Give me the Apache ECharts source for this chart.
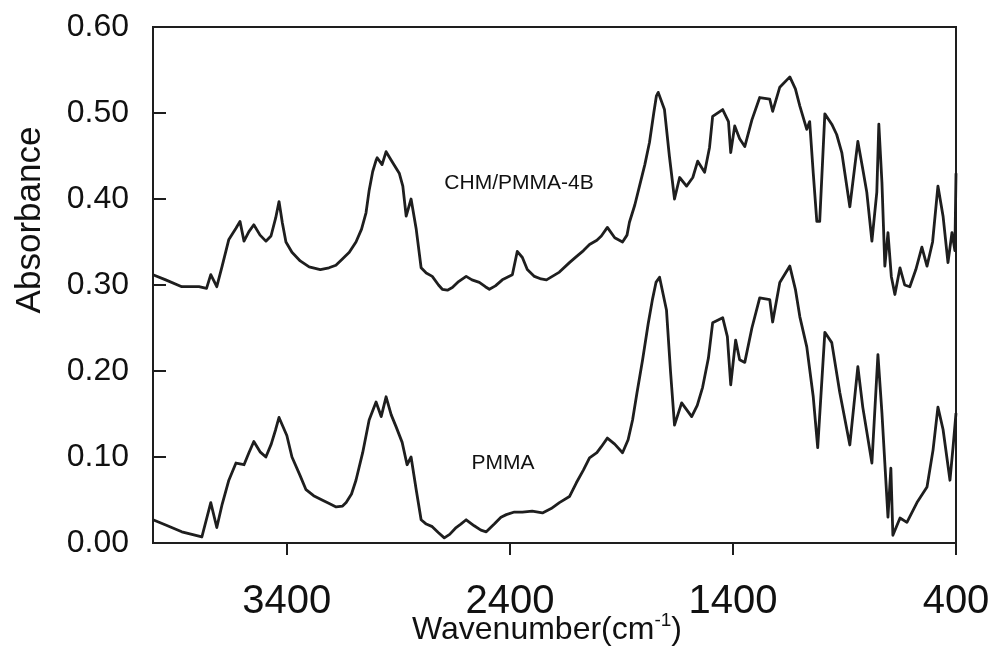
<!DOCTYPE html>
<html>
<head>
<meta charset="utf-8">
<script src="https://cdn.jsdelivr.net/npm/echarts@6/dist/echarts.min.js"></script>
<style>html,body{margin:0;padding:0;background:#fff}#c{width:995px;height:660px}</style>
</head>
<body>
<div id="c"></div>
<script>
// Wavenumber (cm-1) and absorbance readings
const wnTop = [4000,3943,3871,3794,3760,3741,3714,3690,3660,3628,3610,3592,3570,3548,3520,3494,3471,3450,3435,3420,3404,3377,3340,3300,3250,3211,3180,3152,3120,3090,3065,3045,3031,3015,3000,2995,2973,2955,2932,2896,2880,2865,2843,2820,2798,2775,2748,2720,2703,2680,2658,2630,2596,2570,2537,2510,2492,2465,2434,2389,2367,2344,2322,2290,2260,2236,2178,2133,2102,2070,2043,2010,1990,1963,1930,1895,1875,1864,1840,1819,1795,1774,1755,1743,1735,1729,1707,1685,1662,1639,1608,1580,1558,1527,1505,1491,1446,1420,1410,1392,1370,1347,1315,1280,1235,1222,1190,1145,1120,1100,1069,1056,1040,1024,1011,988,957,935,912,876,840,818,800,777,755,746,732,719,705,690,674,651,630,607,580,553,530,505,481,458,436,418,405,400];
const absTop = [0.312,0.306,0.298,0.298,0.296,0.312,0.298,0.322,0.353,0.366,0.374,0.351,0.362,0.370,0.358,0.351,0.357,0.378,0.397,0.372,0.350,0.338,0.328,0.321,0.318,0.320,0.323,0.330,0.338,0.350,0.365,0.384,0.410,0.432,0.445,0.448,0.440,0.455,0.445,0.430,0.415,0.380,0.400,0.365,0.320,0.314,0.310,0.300,0.295,0.294,0.297,0.304,0.310,0.306,0.303,0.298,0.295,0.299,0.306,0.312,0.339,0.332,0.318,0.310,0.307,0.306,0.315,0.326,0.333,0.340,0.347,0.352,0.357,0.367,0.355,0.350,0.358,0.373,0.393,0.415,0.440,0.466,0.500,0.520,0.524,0.522,0.504,0.450,0.400,0.425,0.415,0.425,0.444,0.431,0.460,0.496,0.504,0.490,0.454,0.485,0.470,0.461,0.492,0.518,0.516,0.502,0.530,0.542,0.528,0.508,0.481,0.490,0.430,0.374,0.374,0.499,0.487,0.475,0.454,0.391,0.467,0.435,0.408,0.351,0.408,0.487,0.419,0.322,0.361,0.310,0.289,0.320,0.300,0.298,0.318,0.344,0.322,0.350,0.415,0.380,0.326,0.361,0.340,0.430];
const wnBot = [4000,3943,3871,3781,3741,3714,3690,3660,3628,3592,3570,3548,3520,3494,3470,3450,3435,3400,3377,3340,3314,3280,3242,3210,3179,3150,3134,3110,3090,3060,3031,3000,2977,2955,2932,2910,2883,2861,2843,2820,2798,2775,2748,2720,2694,2670,2641,2620,2596,2560,2530,2506,2470,2440,2416,2380,2344,2300,2254,2215,2178,2133,2102,2070,2043,2010,1990,1963,1930,1895,1870,1850,1830,1805,1780,1761,1745,1729,1698,1680,1662,1630,1585,1560,1536,1510,1491,1446,1425,1410,1388,1370,1347,1315,1280,1235,1222,1190,1145,1120,1100,1069,1040,1020,988,957,921,876,840,818,777,750,732,705,692,683,651,620,575,530,503,481,458,427,413,400];
const absBot = [0.027,0.021,0.013,0.007,0.047,0.018,0.045,0.073,0.093,0.091,0.105,0.118,0.106,0.100,0.115,0.132,0.146,0.125,0.100,0.078,0.062,0.055,0.050,0.046,0.042,0.043,0.047,0.057,0.073,0.105,0.143,0.164,0.147,0.170,0.149,0.135,0.117,0.091,0.100,0.062,0.027,0.022,0.019,0.012,0.006,0.010,0.018,0.022,0.027,0.020,0.015,0.013,0.022,0.030,0.033,0.036,0.036,0.037,0.035,0.040,0.047,0.054,0.070,0.085,0.099,0.105,0.112,0.122,0.115,0.105,0.120,0.143,0.175,0.213,0.255,0.283,0.303,0.309,0.271,0.200,0.137,0.163,0.147,0.160,0.181,0.215,0.256,0.262,0.240,0.184,0.236,0.213,0.210,0.250,0.285,0.283,0.257,0.303,0.322,0.295,0.263,0.228,0.170,0.111,0.245,0.233,0.175,0.114,0.205,0.158,0.093,0.219,0.151,0.030,0.087,0.009,0.029,0.024,0.047,0.065,0.108,0.158,0.132,0.073,0.112,0.151];
const xTicks = [400,1400,2400,3400];
const yTicks = [0,0.1,0.2,0.3,0.4,0.5,0.6];
const labelTop = 'CHM/PMMA-4B';
const labelBot = 'PMMA';

const FONT = '"Liberation Sans", Arial, Helvetica, sans-serif';
const INK = '#1e1e1e';
const chart = echarts.init(document.getElementById('c'), null, {renderer:'canvas'});
const zip = (a,b) => a.map((v,i)=>[v,b[i]]);
chart.setOption({
  animation:false,
  backgroundColor:'#fff',
  grid:{left:153,right:39,top:27,bottom:117,show:true,borderColor:INK,borderWidth:2,backgroundColor:'transparent'},
  xAxis:{type:'value',inverse:true,min:400,max:4000,interval:1000,
    axisLine:{show:true,lineStyle:{color:INK,width:2}},
    axisTick:{show:true,inside:false,length:12,lineStyle:{color:INK,width:2},customValues:xTicks},
    axisLabel:{customValues:xTicks,fontFamily:FONT,fontSize:40,color:'#111',margin:39,formatter:v=>String(v)},
    splitLine:{show:false}},
  yAxis:{type:'value',min:0,max:0.6,interval:0.1,
    axisLine:{show:true,lineStyle:{color:INK,width:2}},
    axisTick:{show:true,inside:true,length:13,lineStyle:{color:INK,width:2}},
    axisLabel:{fontFamily:FONT,fontSize:32,color:'#111',margin:24,formatter:v=>v.toFixed(2)},
    splitLine:{show:false}},
  series:[
    {type:'line',data:zip(wnTop,absTop),showSymbol:false,smooth:false,lineStyle:{color:INK,width:2.8,join:'round'},clip:true},
    {type:'line',data:zip(wnBot,absBot),showSymbol:false,smooth:false,lineStyle:{color:INK,width:2.8,join:'round'},clip:true}
  ],
  graphic:[
    {type:'text',x:30,y:220,rotation:Math.PI/2,style:{text:'Absorbance',font:'35px '+FONT,fill:'#111',align:'center',verticalAlign:'middle'}},
    {type:'text',x:547,y:630,style:{text:'{a|Wavenumber(cm}{s|-1}{a|)}',align:'center',verticalAlign:'middle',rich:{a:{fontFamily:FONT,fontSize:32,fill:'#111'},s:{fontFamily:FONT,fontSize:19,fill:'#111',verticalAlign:'top',padding:[0,0,18,0]}}}},
    {type:'text',x:519,y:183,style:{text:labelTop,font:'21px '+FONT,fill:'#111',align:'center',verticalAlign:'middle'}},
    {type:'text',x:503,y:463,style:{text:labelBot,font:'21px '+FONT,fill:'#111',align:'center',verticalAlign:'middle'}}
  ]
});
</script>
</body>
</html>
